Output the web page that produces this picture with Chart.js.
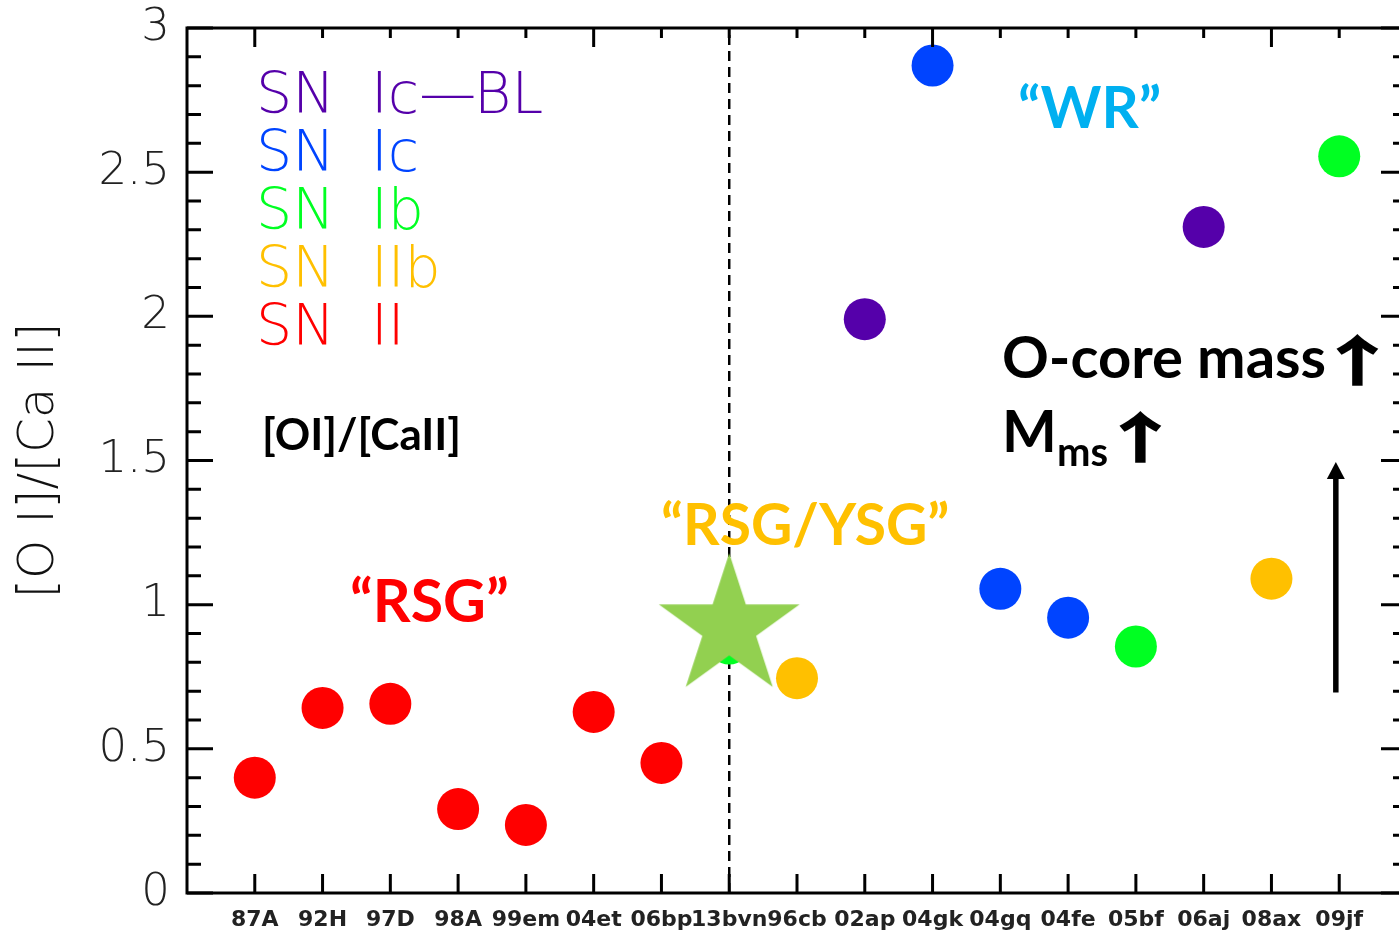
<!DOCTYPE html>
<html><head><meta charset="utf-8">
<script src="https://cdn.jsdelivr.net/npm/chart.js@4/dist/chart.umd.min.js"></script>
<style>
html,body{margin:0;padding:0;background:#fff;overflow:hidden;}
#wrap{width:1407px;height:931px;position:relative;}
</style></head><body>
<div id="wrap"><canvas id="c" width="1407" height="931"></canvas></div>
<script>
// ---- data ----
const categories = ['87A','92H','97D','98A','99em','04et','06bp','13bvn','96cb','02ap','04gk','04gq','04fe','05bf','06aj','08ax','09jf'];
const snICBLNames = ['02ap','06aj'];
const snICBLVals  = [1.99, 2.31];
const snICNames   = ['04gk','04gq','04fe'];
const snICVals    = [2.87, 1.055, 0.955];
const snIBNames   = ['13bvn','05bf','09jf'];
const snIBVals    = [0.865, 0.855, 2.555];
const snIIBNames  = ['96cb','08ax'];
const snIIBVals   = [0.745, 1.09];
const snIINames   = ['87A','92H','97D','98A','99em','04et','06bp'];
const snIIVals    = [0.40, 0.642, 0.656, 0.291, 0.236, 0.628, 0.451];
const starNames   = ['13bvn'];
const starVals    = [0.922];
const yTickValues = [0, 0.5, 1, 1.5, 2, 2.5, 3];
const yTickLabels = ['0', '0.5', '1', '1.5', '2', '2.5', '3'];
const legendTypes = ['Ic\u2014BL','Ic','Ib','IIb','II'];
const arrowX = 16.95;          // category units (annotation arrow)
const arrowY = [0.695, 1.495]; // from, to

// ---- styles ----
const PURPLE = '#5500AA', BLUE = '#0044FF', GREEN = '#00FF22', ORANGE = '#FFC000', RED = '#FF0000';
const THIN = "'DejaVu Sans', sans-serif";
const BOLD = "Lato, 'Open Sans', sans-serif";
const ARROWFONT = "'Noto Sans CJK SC', 'DejaVu Sans', sans-serif";

const xLabels = [''].concat(categories, ['']);
function pts(xs, ys){ return xs.map((x,i)=>({x:x, y:ys[i]})); }

function makeStar(R, color){
  const s = 2*Math.ceil(R)+4;
  const cv = document.createElement('canvas');
  cv.width = s; cv.height = s;
  const g = cv.getContext('2d');
  g.fillStyle = color;
  g.beginPath();
  const cx = s/2, cy = s/2, r = R*0.382;
  for (let i=0;i<10;i++){
    const ang = -Math.PI/2 + i*Math.PI/5;
    const rad = i%2===0 ? R : r;
    const px = cx + rad*Math.cos(ang), py = cy + rad*Math.sin(ang);
    if (i===0) g.moveTo(px,py); else g.lineTo(px,py);
  }
  g.closePath(); g.fill();
  return cv;
}

function dot(label, names, vals, color){
  return {label:label, data:pts(names, vals), showLine:false, pointRadius:21, pointHoverRadius:21,
          pointBackgroundColor:color, backgroundColor:color, borderColor:color, pointBorderWidth:0, borderWidth:0, order:1};
}

const datasets = [
  dot('SN Ic\u2014BL', snICBLNames, snICBLVals, PURPLE),
  dot('SN Ic', snICNames, snICVals, BLUE),
  dot('SN Ib', snIBNames, snIBVals, GREEN),
  dot('SN IIb', snIIBNames, snIIBVals, ORANGE),
  dot('SN II', snIINames, snIIVals, RED),
  {label:'SN 2013bvn', data:pts(starNames, starVals), showLine:false, pointStyle:makeStar(74,'#92D050'),
   pointRadius:37, pointHoverRadius:37, order:0},
  {label:'divider', data:[{x:'13bvn',y:0},{x:'13bvn',y:3}], showLine:true, borderColor:'#000', borderWidth:2.5,
   borderDash:[10,6], pointRadius:0, pointHoverRadius:0, fill:false, order:2}
];
const legendColors = [PURPLE, BLUE, GREEN, ORANGE, RED];

function wideText(ctx, txt, x, y, sx){
  ctx.save(); ctx.translate(x, y); ctx.scale(sx, 1); ctx.fillText(txt, 0, 0); ctx.restore();
}

const decor = {
  id:'decor',
  afterDraw(chart){
    const ctx = chart.ctx, a = chart.chartArea, xs = chart.scales.x, ys = chart.scales.y;
    ctx.save();
    // frame
    ctx.strokeStyle = '#000'; ctx.lineWidth = 3; ctx.lineCap = 'butt';
    ctx.strokeRect(a.left, a.top, a.right - a.left, a.bottom - a.top);
    // y ticks (inward, both sides)
    for (let k=0;k<=30;k++){
      const v = k/10, y = ys.getPixelForValue(v);
      const major = (k % 5 === 0);
      const L = major ? 26 : 14;
      ctx.beginPath();
      ctx.moveTo(a.left, y); ctx.lineTo(a.left + L, y);
      ctx.moveTo(a.right, y); ctx.lineTo(a.right - L, y);
      ctx.stroke();
    }
    // x ticks
    categories.forEach((c,i)=>{
      const x = xs.getPixelForValue(i+1);
      ctx.beginPath();
      ctx.moveTo(x, a.bottom); ctx.lineTo(x, a.bottom - 19);
      ctx.moveTo(x, a.top); ctx.lineTo(x, a.top + (i % 5 === 0 ? 19 : 10));
      ctx.stroke();
    });
    // legend (coloured text)
    ctx.font = "200 57px " + THIN;
    ctx.textBaseline = 'alphabetic'; ctx.textAlign = 'left';
    legendTypes.forEach((t,i)=>{
      ctx.fillStyle = legendColors[i];
      const by = 113 + i*58;
      ctx.fillText('SN', 256, by);
      ctx.fillText(t, 371, by);
    });
    // annotations
    ctx.fillStyle = '#000';
    ctx.font = "bold 44px " + BOLD;
    ctx.fillText('[OI]/[CaII]', 262, 450);
    ctx.fillStyle = RED; ctx.font = "bold 59px " + BOLD;
    ctx.fillText('\u201CRSG\u201D', 350, 622);
    ctx.fillStyle = ORANGE; ctx.font = "bold 57px " + BOLD;
    ctx.fillText('\u201CRSG/YSG\u201D', 661, 545);
    ctx.fillStyle = '#00B0F0'; ctx.font = "bold 58px " + BOLD;
    ctx.fillText('\u201CWR\u201D', 1018, 128);
    ctx.fillStyle = '#000';
    ctx.font = "bold 58px " + BOLD;
    ctx.fillText('O-core mass', 1002, 378);
    let w = ctx.measureText('O-core mass').width;
    ctx.font = "900 56px " + ARROWFONT;
    wideText(ctx, '\u2191', 1002 + w - 12, 381, 1.55);
    ctx.font = "bold 58px " + BOLD;
    ctx.fillText('M', 1002, 452);
    ctx.font = "bold 40px " + BOLD;
    ctx.fillText('ms', 1057, 466);
    ctx.font = "900 56px " + ARROWFONT;
    wideText(ctx, '\u2191', 1097, 458, 1.55);
    // big arrow
    const ax = xs.getPixelForValue(arrowX);
    const y0 = ys.getPixelForValue(arrowY[0]), y1 = ys.getPixelForValue(arrowY[1]);
    ctx.lineWidth = 5.5;
    ctx.beginPath(); ctx.moveTo(ax, y0); ctx.lineTo(ax, y1 + 14); ctx.stroke();
    ctx.beginPath(); ctx.moveTo(ax, y1); ctx.lineTo(ax - 9, y1 + 17); ctx.lineTo(ax + 9, y1 + 17); ctx.closePath(); ctx.fill();
    ctx.restore();
  }
};

function zeroPad(s){ s.paddingTop = 0; s.paddingBottom = 0; s.paddingLeft = 0; s.paddingRight = 0; }

new Chart(document.getElementById('c'), {
  type:'line',
  data:{labels:xLabels, datasets:datasets},
  options:{
    responsive:false, animation:false, events:[],
    layout:{autoPadding:false, padding:{top:28, right:0, bottom:0, left:0}},
    plugins:{legend:{display:false}, tooltip:{enabled:false}},
    scales:{
      x:{type:'category', labels:xLabels, offset:false,
         grid:{display:false, drawTicks:false}, border:{display:false},
         ticks:{autoSkip:false, maxRotation:0, minRotation:0, padding:14, color:'#222',
                font:{family:"'DejaVu Sans', sans-serif", size:22, weight:'bold'}},
         afterFit(s){ s.height = 38; zeroPad(s); }},
      y:{type:'linear', min:0, max:3,
         grid:{display:false, drawTicks:false}, border:{display:false},
         afterBuildTicks(s){ s.ticks = yTickValues.map(v=>({value:v})); },
         ticks:{padding:17, color:'#222', font:{family:THIN, size:45, weight:'200'},
                callback:(v)=>{ const i = yTickValues.indexOf(v); return i >= 0 ? yTickLabels[i] : ''; }},
         title:{display:true, text:'[O I]/[Ca II]', color:'#111',
                font:{family:THIN, size:50, weight:'200'}, padding:{top:10, bottom:0}},
         afterFit(s){ s.width = 187; zeroPad(s); }}
    }
  },
  plugins:[decor]
});
</script>
</body></html>
